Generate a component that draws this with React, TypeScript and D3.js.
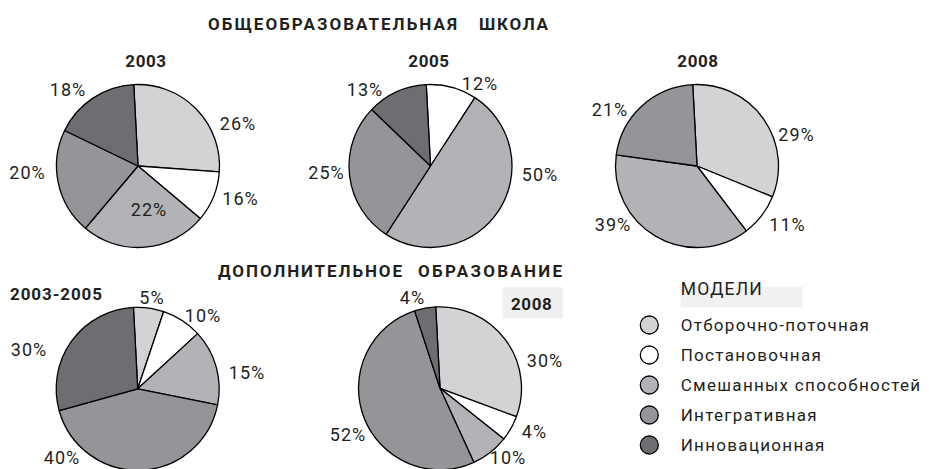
import * as d3 from 'd3';

// models (legend order = slice order, clockwise from top)
const models = ['Отборочно-поточная', 'Постановочная', 'Смешанных  способностей', 'Интегративная', 'Инновационная'];
const modelColors = ['#d1d3d4', '#ffffff', '#b1b3b6', '#939598', '#6d6e71'];

// printed percentages
const school2003 = [26, 16, 22, 20, 18];
const school2005 = [0, 12, 50, 25, 13];
const school2008 = [29, 11, 39, 21, 0];
const extra2003_2005 = [5, 10, 15, 40, 30];
const extra2008 = [30, 4, 10, 52, 4];

// slice shares as drawn in the picture (the printed numbers and the drawn angles differ a bit)
const school2003Drawn = [27, 10, 25, 21, 17];
const school2005Drawn = [0, 10, 50, 28, 12];
const school2008Drawn = [32, 8.5, 37.5, 22, 0];
const extra2003_2005Drawn = [6, 8, 15, 42.5, 28.5];
const extra2008Drawn = [31.5, 5, 7.5, 51.8, 4.2];

const INK = '#231f20';
const R = 81.5;
const START = (-3 * Math.PI) / 180;

// layout: pie centres and label anchors (x, baseline) per slice
const pies = [
  { title: '2003', tx: 146, ty: 66.5, cx: 138, cy: 166, pct: school2003, drawn: school2003Drawn,
    lab: [[238, 129.5], [240.5, 204.5], [149, 215.5], [27.5, 178.5], [68, 95.5]] },
  { title: '2005', tx: 429, ty: 66.5, cx: 430.5, cy: 166, pct: school2005, drawn: school2005Drawn,
    lab: [[0, 0], [480, 90], [540, 180.5], [326.5, 179], [365, 95.5]] },
  { title: '2008', tx: 698, ty: 66.5, cx: 697, cy: 166, pct: school2008, drawn: school2008Drawn,
    lab: [[796.5, 140.5], [787.5, 230.5], [613, 230.5], [610, 115.5], [0, 0]] },
  { title: '', tx: 0, ty: 0, cx: 137.7, cy: 388.8, pct: extra2003_2005, drawn: extra2003_2005Drawn,
    lab: [[152, 304], [203, 322], [247, 379], [62, 464], [29, 355.5]] },
  { title: '', tx: 0, ty: 0, cx: 440, cy: 388.3, pct: extra2008, drawn: extra2008Drawn,
    lab: [[545, 367], [534.5, 438], [508, 464], [348, 440.5], [412.5, 304]] },
];

const pie = d3.pie<number>().sort(null).value(d => d).startAngle(START).endAngle(START + 2 * Math.PI);
const arc = d3.arc<d3.PieArcDatum<number>>().innerRadius(0).outerRadius(R);

const Pie = ({ p }: { p: typeof pies[number] }) => {
  const slices = pie(p.drawn);
  return (
    <g>
      <g transform={`translate(${p.cx},${p.cy})`}>
        {slices.filter(s => s.value > 0).map(s => (
          <path key={s.index} d={arc(s) || ''} fill={modelColors[s.index]} stroke="#000" strokeWidth={1.3} strokeLinejoin="round" />
        ))}
      </g>
      {p.pct.map((v, i) => v > 0 && (
        <text key={i} x={p.lab[i][0]} y={p.lab[i][1]} textAnchor="middle" fontSize={18} letterSpacing={1} fill={INK}>
          {v}%
        </text>
      ))}
      {p.title && (
        <text x={p.tx} y={p.ty} textAnchor="middle" fontSize={17} fontWeight="bold" letterSpacing={0.6} fill={INK}>
          {p.title}
        </text>
      )}
    </g>
  );
};

export default function App() {
  return (
    <svg width={929} height={469} style={{ position: 'absolute', left: 0, top: 0, background: '#fff' }}
      fontFamily="Roboto, 'DejaVu Sans', sans-serif">
      <text y={29.5} fontSize={17} fontWeight="bold" fill={INK}>
        <tspan x={208} textLength={249}>ОБЩЕОБРАЗОВАТЕЛЬНАЯ</tspan>
        <tspan x={479} textLength={69}>ШКОЛА</tspan>
      </text>
      <text y={276.7} fontSize={17} fontWeight="bold" fill={INK}>
        <tspan x={218} textLength={184}>ДОПОЛНИТЕЛЬНОЕ</tspan>
        <tspan x={418} textLength={144}>ОБРАЗОВАНИЕ</tspan>
      </text>

      {pies.map((p, i) => <Pie key={i} p={p} />)}

      <text x={10} y={300} fontSize={17} fontWeight="bold" fill={INK} textLength={92}>2003-2005</text>
      <rect x={502.7} y={287.3} width={60} height={31} fill="#efefef" />
      <text x={531.7} y={310} textAnchor="middle" fontSize={17} fontWeight="bold" letterSpacing={0.6} fill={INK}>2008</text>

      <rect x={680.7} y={286.7} width={122} height={20.6} fill="#f1f1f1" />
      <text x={680.7} y={295} fontSize={17.5} fill={INK} textLength={81}>МОДЕЛИ</text>
      {models.map((m, i) => (
        <g key={m} transform={`translate(0,${325 + i * 30})`}>
          <circle cx={649.3} cy={0} r={9} fill={modelColors[i]} stroke="#000" strokeWidth={1.3} />
          <text x={680.7} y={5.5} fontSize={17} letterSpacing={1.3} fill={INK}>{m}</text>
        </g>
      ))}
    </svg>
  );
}
